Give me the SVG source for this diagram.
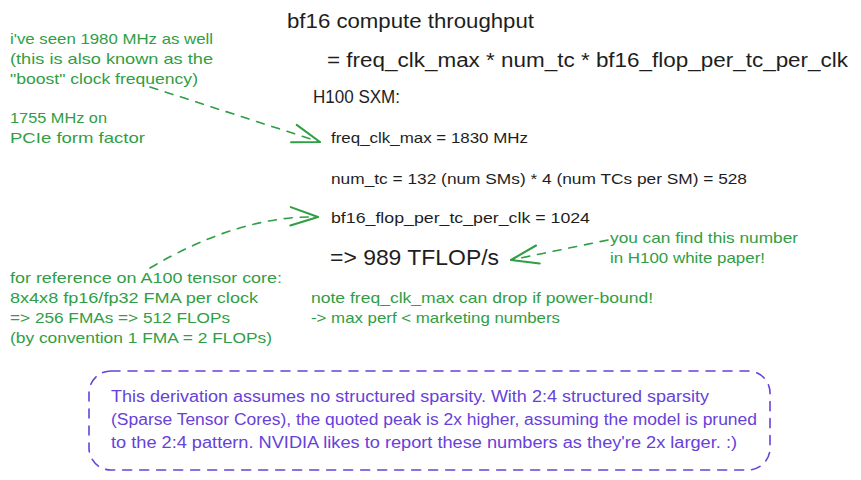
<svg xmlns="http://www.w3.org/2000/svg" width="861" height="480" viewBox="0 0 861 480">
<style>
text{font-family:"Liberation Sans","DejaVu Sans",sans-serif}
.k{fill:#1e1e1e}
.g{fill:#2f9e44;font-size:15px}
.p{fill:#6741d9;font-size:16px}
.s15{font-size:15px}
.s20{font-size:20px}
.conn{fill:none;stroke:#2f9e44;stroke-width:1.6;stroke-dasharray:8 8;stroke-linecap:round}
.box{fill:none;stroke:#6741d9;stroke-width:1.6;stroke-dasharray:9 8;stroke-linecap:round}
</style>
<defs>
<marker id="ah" markerUnits="userSpaceOnUse" markerWidth="40" markerHeight="40" refX="0" refY="0" viewBox="-30 -15 35 30" orient="auto" overflow="visible">
<path d="M-24,-8 L0,0 L-24,8" fill="none" stroke="#2f9e44" stroke-width="1.8" stroke-linecap="round" stroke-linejoin="round"/>
</marker>
</defs>
<rect width="861" height="480" fill="#ffffff"/>

<g id="title">
<text class="k s20" x="287" y="28" textLength="247" lengthAdjust="spacingAndGlyphs">bf16 compute throughput</text>
</g>
<g id="formula">
<text class="k s20" x="327" y="67" textLength="521" lengthAdjust="spacingAndGlyphs">= freq_clk_max * num_tc * bf16_flop_per_tc_per_clk</text>
</g>
<g id="h100">
<text class="k" font-size="18" x="313" y="103" textLength="87" lengthAdjust="spacingAndGlyphs">H100 SXM:</text>
</g>
<g id="freq">
<text class="k s15" x="331" y="143" textLength="197" lengthAdjust="spacingAndGlyphs">freq_clk_max = 1830 MHz</text>
</g>
<g id="numtc">
<text class="k s15" x="331" y="184" textLength="416" lengthAdjust="spacingAndGlyphs">num_tc = 132 (num SMs) * 4 (num TCs per SM) = 528</text>
</g>
<g id="flop">
<text class="k s15" x="331" y="223" textLength="259" lengthAdjust="spacingAndGlyphs">bf16_flop_per_tc_per_clk = 1024</text>
</g>
<g id="result">
<text class="k" font-size="22" x="330" y="265" textLength="169" lengthAdjust="spacingAndGlyphs">=&gt; 989 TFLOP/s</text>
</g>

<g id="note-boost">
<text class="g" x="10" y="44" textLength="203" lengthAdjust="spacingAndGlyphs">i've seen 1980 MHz as well</text>
<text class="g" x="10" y="64" textLength="203" lengthAdjust="spacingAndGlyphs">(this is also known as the</text>
<text class="g" x="10" y="84" textLength="188" lengthAdjust="spacingAndGlyphs">"boost" clock frequency)</text>
<text class="g" x="10" y="123" textLength="97" lengthAdjust="spacingAndGlyphs">1755 MHz on</text>
<text class="g" x="10" y="143" textLength="135" lengthAdjust="spacingAndGlyphs">PCIe form factor</text>
</g>
<g id="note-whitepaper">
<text class="g" x="610" y="243" textLength="188" lengthAdjust="spacingAndGlyphs">you can find this number</text>
<text class="g" x="610" y="263" textLength="155" lengthAdjust="spacingAndGlyphs">in H100 white paper!</text>
</g>
<g id="note-a100">
<text class="g" x="10" y="283" textLength="272" lengthAdjust="spacingAndGlyphs">for reference on A100 tensor core:</text>
<text class="g" x="10" y="303" textLength="248" lengthAdjust="spacingAndGlyphs">8x4x8 fp16/fp32 FMA per clock</text>
<text class="g" x="10" y="323" textLength="220" lengthAdjust="spacingAndGlyphs">=&gt; 256 FMAs =&gt; 512 FLOPs</text>
<text class="g" x="10" y="343" textLength="262" lengthAdjust="spacingAndGlyphs">(by convention 1 FMA = 2 FLOPs)</text>
</g>
<g id="note-power">
<text class="g" x="311" y="303" textLength="342" lengthAdjust="spacingAndGlyphs">note freq_clk_max can drop if power-bound!</text>
<text class="g" x="311" y="323" textLength="249" lengthAdjust="spacingAndGlyphs">-&gt; max perf &lt; marketing numbers</text>
</g>
<g id="sparsity">
<rect class="box" x="89" y="371" width="681" height="99" rx="22"/>
<text class="p" x="111" y="402" textLength="598" lengthAdjust="spacingAndGlyphs">This derivation assumes no structured sparsity. With 2:4 structured sparsity</text>
<text class="p" x="111" y="425" textLength="646" lengthAdjust="spacingAndGlyphs">(Sparse Tensor Cores), the quoted peak is 2x higher, assuming the model is pruned</text>
<text class="p" x="111" y="448" textLength="626" lengthAdjust="spacingAndGlyphs">to the 2:4 pattern. NVIDIA likes to report these numbers as they're 2x larger. :)</text>
</g>

<g id="connectors">
<path class="conn" d="M150,87 L320,142" marker-end="url(#ah)"/>
<path class="conn" d="M150,268 Q240,215 318,217" marker-end="url(#ah)"/>
<path class="conn" d="M608,240 L511,260" marker-end="url(#ah)"/>
</g>
</svg>
